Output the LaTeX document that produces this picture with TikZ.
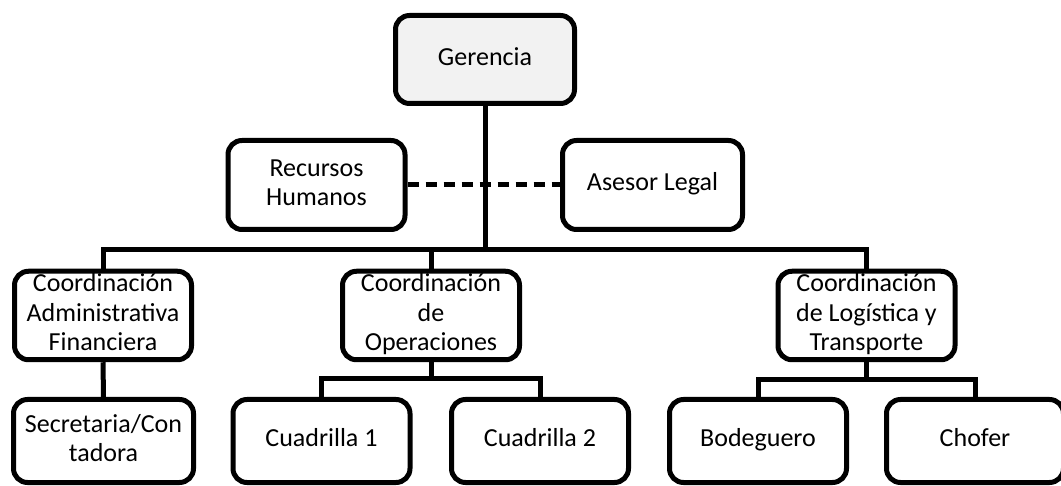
\documentclass[tikz,border=0pt]{standalone}
\usepackage{fontspec}
\setmainfont{Carlito}
\definecolor{gerfill}{HTML}{F2F2F2}
\begin{document}
\begin{tikzpicture}[x=1pt,y=-1pt,
  box/.style={draw=black, line width=5pt, rounded corners=14pt, fill=white,
    minimum width=177pt, minimum height=88pt, inner sep=0pt, align=center,
    font=\fontsize{26}{29.5}\selectfont},
  lowbox/.style={box, minimum height=83pt},
  link/.style={line width=5pt, line join=miter},
  dashlink/.style={line width=5pt, dash pattern=on 11pt off 7pt}]
\useasboundingbox (0,0) rectangle (1061,486);
% nodes
\node[box, fill=gerfill, minimum width=179pt] (ger) at (485,59.5) {Gerencia\strut};
\node[box, minimum height=89pt] (rh) at (316.5,185) {Recursos\strut\\Humanos\strut};
\node[box, minimum width=180pt, minimum height=89pt] (ase) at (652.5,185) {Asesor Legal\strut};
\node[box] (adm) at (103,315.5) {Coordinación\strut\\Administrativa\strut\\Financiera\strut};
\node[box] (ope) at (431,315.5) {Coordinación\strut\\de\strut\\Operaciones\strut};
\node[box] (log) at (866.5,315.5) {Coordinación\strut\\de Logística y\strut\\Transporte\strut};
\node[lowbox, minimum width=180pt] (sec) at (103.5,441) {Secretaria/Con\strut\\tadora\strut};
\node[lowbox] (cu1) at (321.5,441) {Cuadrilla 1\strut};
\node[lowbox] (cu2) at (540,441) {Cuadrilla 2\strut};
\node[lowbox] (bod) at (758,441) {Bodeguero\strut};
\node[lowbox] (cho) at (975,441) {Chofer\strut};
% coordinates for buses
\coordinate (busA) at (0,250);
\coordinate (busB) at (0,379);
\coordinate (busC) at (0,380);
% connectors
\draw[link] (ger.south) -- (ger.south |- busA);
\draw[link] (adm.north) -- (adm.north |- busA) -- (log.north |- busA) -- (log.north);
\draw[link] (ope.north) -- (ope.north |- busA);
\draw[dashlink] (rh.east) -- (ase.west);
\draw[link] (adm.south) -- (sec.north);
\draw[link] (ope.south) -- (ope.south |- busB);
\draw[link] (cu1.north) -- (cu1.north |- busB) -- (cu2.north |- busB) -- (cu2.north);
\draw[link] (log.south) -- (log.south |- busC);
\draw[link] (bod.north) -- (bod.north |- busC) -- (cho.north |- busC) -- (cho.north);
\end{tikzpicture}
\end{document}
